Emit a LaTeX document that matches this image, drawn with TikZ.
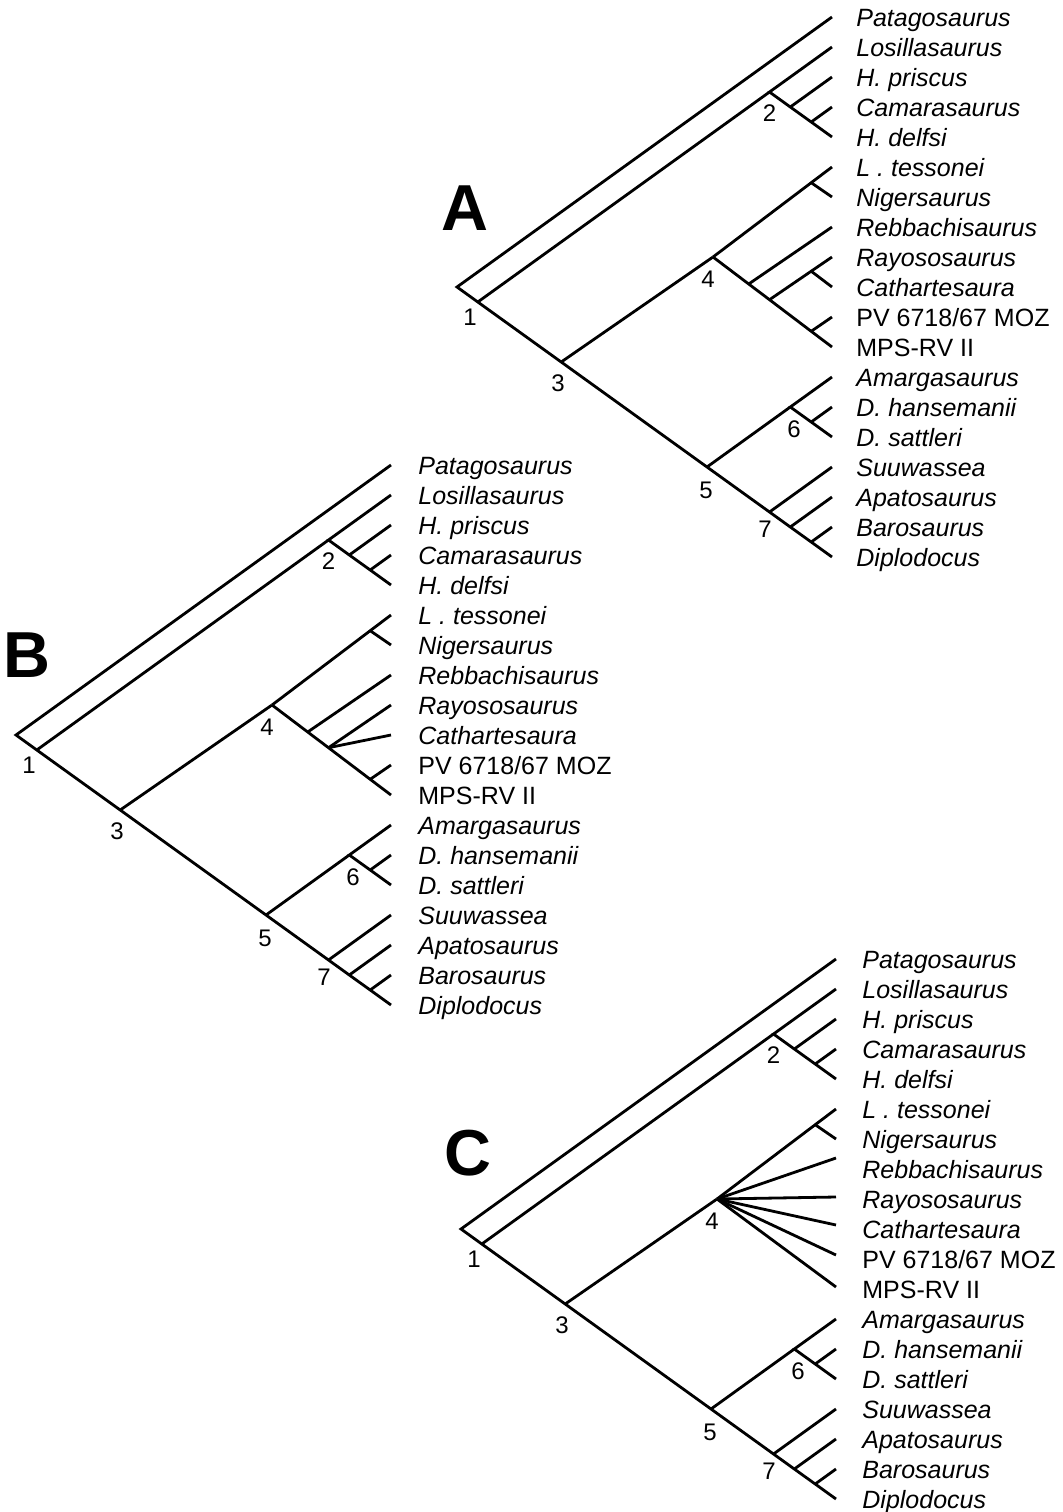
\documentclass[tikz,border=0pt]{standalone}
\usepackage{fontspec}
\setmainfont{Liberation Sans}
\newcommand{\pvname}{PV 6718/67 MOZ}
\tikzset{
  br/.style={line width=1.4pt, line join=miter},
  taxon/.style={anchor=base west, inner sep=0pt, font=\fontsize{12.5}{15}\selectfont\itshape},
  numlab/.style={inner sep=0pt, font=\fontsize{12}{14}\selectfont},
  panel/.style={inner sep=0pt, font=\fontsize{32.5}{36}\selectfont\bfseries},
}
% common part of each cladogram: #1 = prefix, #2 = label x offset
\newcommand{\basetree}[2]{%
  \foreach \i in {0,...,18}{\coordinate (#1l\i) at (0,{30*\i});}
  \coordinate (#1r) at (-375,270);
  \coordinate (#1n1) at (-354.2,285);
  \coordinate (#1n2) at (-62.5,75);
  \coordinate (#1n2a) at (-41.7,90);
  \coordinate (#1n2b) at (-20.8,105);
  \coordinate (#1n3) at (-270.8,345);
  \coordinate (#1n4) at (-119,240);
  \coordinate (#1n5) at (-125,450);
  \coordinate (#1n6) at (-41.7,390);
  \coordinate (#1n6a) at (-20.8,405);
  \coordinate (#1n7) at (-62.5,495);
  \coordinate (#1n7a) at (-41.7,510);
  \coordinate (#1n7b) at (-20.8,525);
  \coordinate (#1n4a) at (-20.8,165.7);
  \coordinate (#1n4b) at (-83.3,267);
  \coordinate (#1n4c) at (-62.5,282.7);
  \coordinate (#1n4e) at (-20.8,314.3);
  \draw[br] (#1l0) -- (#1r) -- (#1n1) -- (#1n3) -- (#1n5) -- (#1n7) -- (#1n7a) -- (#1n7b) -- (#1l18);
  \draw[br] (#1n1) -- (#1n2);
  \draw[br] (#1l1) -- (#1n2) -- (#1n2a) -- (#1n2b) -- (#1l4);
  \draw[br] (#1n2a) -- (#1l2);
  \draw[br] (#1n2b) -- (#1l3);
  \draw[br] (#1n3) -- (#1n4);
  \draw[br] (#1n5) -- (#1n6);
  \draw[br] (#1l12) -- (#1n6) -- (#1n6a) -- (#1l14);
  \draw[br] (#1n6a) -- (#1l13);
  \draw[br] (#1n7) -- (#1l15);
  \draw[br] (#1n7a) -- (#1l16);
  \draw[br] (#1n7b) -- (#1l17);
  \draw[br] (#1l5) -- (#1n4a) -- (#1n4);
  \draw[br] (#1n4a) -- (#1l6);
  \foreach \i/\nm in {0/Patagosaurus,1/Losillasaurus,2/H. priscus,3/Camarasaurus,4/H. delfsi,5/L . tessonei,6/Nigersaurus,7/Rebbachisaurus,8/Rayososaurus,9/Cathartesaura,10/{\upshape\pvname},11/{\upshape MPS-RV II},12/Amargasaurus,13/D. hansemanii,14/D. sattleri,15/Suuwassea,16/Apatosaurus,17/Barosaurus,18/Diplodocus}{%
    \node[taxon] (#1t\i) at (#2,{30*\i+9}) {\nm};}
  \node[numlab] (#1k1) at (-362,300) {1};
  \node[numlab] (#1k2) at (-62.5,96) {2};
  \node[numlab] (#1k3) at (-274,366) {3};
  \node[numlab] (#1k4) at (-124,262) {4};
  \node[numlab] (#1k5) at (-126,473) {5};
  \node[numlab] (#1k6) at (-38,412) {6};
  \node[numlab] (#1k7) at (-67,512) {7};
}
\begin{document}
\begin{tikzpicture}[x=0.5pt,y=-0.5pt]
\useasboundingbox (0,0) rectangle (1063,1512);
% ---------- A ----------
\begin{scope}[shift={(832,17)}]
  \basetree{A}{24}
  \coordinate (An4d) at (-20.8,254.2);
  \draw[br] (An4) -- (An4b) -- (An4c) -- (An4e) -- (Al11);
  \draw[br] (An4b) -- (Al7);
  \draw[br] (An4c) -- (An4d) -- (Al8);
  \draw[br] (An4d) -- (Al9);
  \draw[br] (An4e) -- (Al10);
\end{scope}
% ---------- B ----------
\begin{scope}[shift={(391,465)}]
  \basetree{B}{27}
  \draw[br] (Bn4) -- (Bn4b) -- (Bn4c) -- (Bn4e) -- (Bl11);
  \draw[br] (Bn4b) -- (Bl7);
  \draw[br] (Bn4c) -- (Bl8);
  \draw[br] (Bn4c) -- (Bl9);
  \draw[br] (Bn4e) -- (Bl10);
\end{scope}
% ---------- C ----------
\begin{scope}[shift={(836,959)}]
  \basetree{C}{26}
  \coordinate (Ce7) at (0,199);
  \coordinate (Ce8) at (0,238);
  \coordinate (Ce9) at (0,266);
  \coordinate (Ce10) at (0,296);
  \coordinate (Ce11) at (0,328);
  \foreach \j in {7,...,11}{\draw[br] (Cn4) -- (Ce\j);}
\end{scope}
% panel letters
\node[panel] (pA) at (465,208) {A};
\node[panel] (pB) at (27,655) {B};
\node[panel] (pC) at (468,1153) {C};
\end{tikzpicture}
\end{document}
